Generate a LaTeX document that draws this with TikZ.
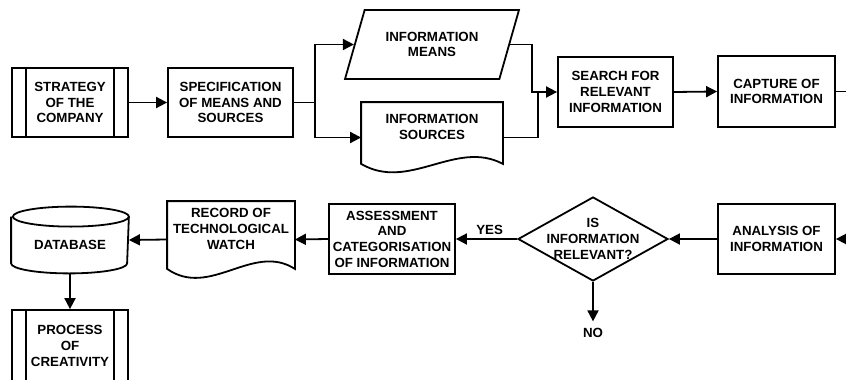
\documentclass[tikz,border=0pt]{standalone}
\usepackage{fontspec}
\setmainfont{Liberation Sans}
\usetikzlibrary{shapes.geometric,arrows.meta,positioning}

\begin{document}
\begin{tikzpicture}[x=1pt, y=-1pt, line width=1.8pt, font=\fontsize{13.3}{15.7}\selectfont\bfseries]
        \tikzstyle{box}=[draw, rectangle, align=center, inner sep=1pt]
        \tikzstyle{subproc}=[box, path picture={
            \draw ([xshift=14pt]path picture bounding box.north west) -- ([xshift=14pt]path picture bounding box.south west);
            \draw ([xshift=-14pt]path picture bounding box.north east) -- ([xshift=-14pt]path picture bounding box.south east);}]
        \tikzstyle{io}=[draw, trapezium, trapezium left angle=63, trapezium right angle=117, trapezium stretches=true, align=center, inner sep=1pt]
        \tikzstyle{doc}=[align=center, inner sep=1pt, text depth=21pt]
        \tikzstyle{decision}=[draw, diamond, inner sep=0pt]
        \tikzstyle{arr}=[-{Triangle[length=11pt,width=11pt]}]

        \useasboundingbox (0,0) rectangle (846,380);

        % First row
        \node[subproc, minimum width=116pt, minimum height=69pt] (strat) at (70,102.5) {STRATEGY\\OF THE\\COMPANY};
        \node[box, minimum width=125pt, minimum height=69pt] (spec) at (230.5,102.5) {SPECIFICATION\\OF MEANS AND\\SOURCES};
        \node[io, minimum width=174pt, minimum height=69pt] (means) at (432,44.5) {INFORMATION\\MEANS};
        \node[doc, minimum width=140pt, minimum height=69pt] (srcs) at (432,137.5) {INFORMATION\\SOURCES};
        \node[box, minimum width=115pt, minimum height=70pt] (search) at (615.5,92) {SEARCH FOR\\RELEVANT\\INFORMATION};
        \node[box, minimum width=117pt, minimum height=71pt] (capture) at (776.5,91.5) {CAPTURE OF\\INFORMATION};

        % Second row
        \node[box, minimum width=117pt, minimum height=70pt] (analysis) at (776.5,239) {ANALYSIS OF\\INFORMATION};
        \node[decision, minimum width=150pt, minimum height=84pt,
              label={[align=center, name=reltext]center:IS\\INFORMATION\\RELEVANT?}] (rel) at (593,239) {};
        \node[inner sep=6pt] (no) at (593,333) {NO};
        \node[box, minimum width=126pt, minimum height=70pt] (assess) at (392,239) {ASSESSMENT\\AND\\CATEGORISATION\\OF INFORMATION};
        \node[doc, minimum width=126pt, minimum height=75pt] (record) at (231,239.5) {RECORD OF\\TECHNOLOGICAL\\WATCH};
        \node[align=center, minimum width=116pt, minimum height=65pt, text height=19pt] (db) at (70,240) {DATABASE};
        \node[subproc, minimum width=116pt, minimum height=72pt] (proc) at (70,346) {PROCESS\\OF\\CREATIVITY};

        % Document outlines
        \draw (srcs.north west) -- (srcs.north east) -- ([yshift=9pt]srcs.south east)
            .. controls +(-47,-25) and +(48,28) .. ([yshift=9pt]srcs.south west) -- cycle;
        \draw (record.north west) -- (record.north east) -- ([yshift=9pt]record.south east)
            .. controls +(-42,-27) and +(43,30) .. ([yshift=9pt]record.south west) -- cycle;

        % Database cylinder
        \draw ([yshift=-10pt]db.north west) -- ([yshift=10pt]db.south west)
            arc[start angle=180, end angle=360, x radius=58pt, y radius=10pt]
            -- ([yshift=-10pt]db.north east)
            arc[start angle=0, end angle=360, x radius=58pt, y radius=10pt];

        % Branch and merge points
        \coordinate (split) at (315,102.5);
        \coordinate (join) at (538,92);
        \coordinate (outA) at (846,91.5);
        \coordinate (inB) at (846,239);

        % Connectors
        \draw[arr] (strat.east) -- (spec.east -| spec.west);
        \draw (spec.east) -- (split);
        \draw[arr] (split) |- (means.west);
        \draw[arr] (split) |- (srcs.west);
        \draw (means.east) -- ++(22,0) |- (join);
        \draw (srcs.east) -| (join);
        \draw[arr] (join) -- (search.west);
        \draw[arr] (search.east) -- (capture.west);
        \draw (capture.east) -- (outA);
        \draw[arr] (inB) -- (analysis.east);
        \draw[arr] (analysis.west) -- (rel.east);
        \draw[arr] (rel.west) -- node[above, pos=0.45] (yes) {YES} (assess.east);
        \draw[arr] (rel.south) -- (no.north);
        \draw[arr] (assess.west) -- (record.east);
        \draw[arr] (record.west) -- (db.east);
        \draw[arr] (db.south) -- (proc.north);
\end{tikzpicture}
\end{document}
